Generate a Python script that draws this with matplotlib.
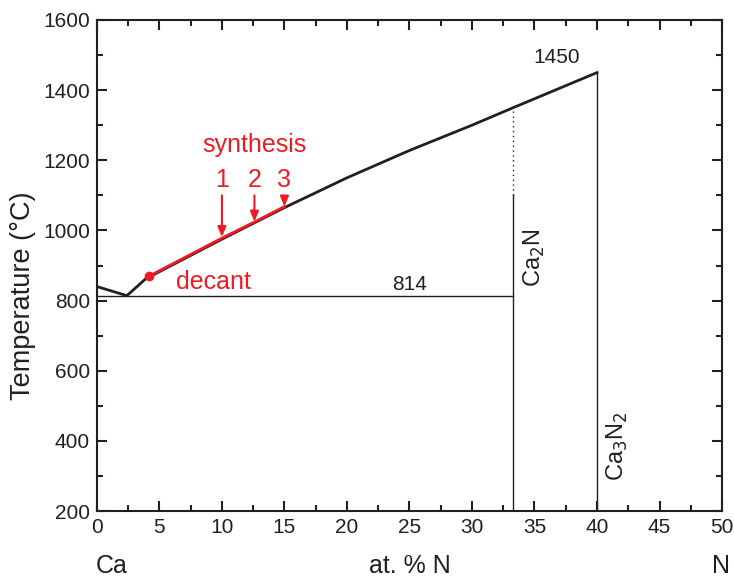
import matplotlib.pyplot as plt
from matplotlib.ticker import MultipleLocator

plt.rcParams['font.family'] = ['Liberation Sans', 'DejaVu Sans']

# liquidus curve (at.% N, temperature in C)
liq_x = [0, 2.4, 3.9, 10, 15, 20, 25, 30, 33.3, 40]
liq_t = [840, 814, 862, 975, 1065, 1150, 1228, 1300, 1350, 1450]

# red synthesis section of the liquidus
syn_x = [4.2, 10, 12.6, 15.0]
syn_t = [870, 978, 1024, 1068]

eutectic_t = 814
ca2n_x = 33.3
ca2n_top_solid = 1100
ca2n_liq = 1350
ca3n2_x = 40
ca3n2_t = 1450

arrow_x = [10, 12.6, 15.0]
arrow_from = [1100, 1100, 1092]
arrow_to = [981, 1025, 1068]
arrow_lbl = ['1', '2', '3']

dark = '#231f20'
red = '#ed1c24'

fig = plt.figure(figsize=(7.34, 5.79), dpi=100)
ax = fig.add_axes([0.132, 0.1174, 0.8517, 0.8481])

ax.plot(liq_x, liq_t, color=dark, lw=2)
ax.plot(syn_x, syn_t, color=red, lw=2)
ax.plot(syn_x[0], syn_t[0], 'o', color=red, ms=6)

ax.plot([0, ca2n_x], [eutectic_t, eutectic_t], color=dark, lw=1)
ax.plot([ca2n_x, ca2n_x], [200, ca2n_top_solid], color=dark, lw=1)
ax.plot([ca2n_x, ca2n_x], [ca2n_top_solid, ca2n_liq], color=dark, lw=1, ls=(0, (1, 2.5)))
ax.plot([ca3n2_x, ca3n2_x], [200, ca3n2_t], color=dark, lw=1)

for xa, y0, y1, lb in zip(arrow_x, arrow_from, arrow_to, arrow_lbl):
    ax.annotate('', xy=(xa, y1), xytext=(xa, y0),
                arrowprops=dict(arrowstyle='-|>,head_length=0.6,head_width=0.25',
                                color=red, lw=1.5, shrinkA=0, shrinkB=0))
    ax.text(xa, 1145, lb, color=red, fontsize=18, ha='center', va='center')

ax.text(12.6, 1243, 'synthesis', color=red, fontsize=18, ha='center', va='center')
ax.text(9.3, 853, 'decant', color=red, fontsize=18, ha='center', va='center')
ax.text(25, 846, '814', color=dark, fontsize=15, ha='center', va='center')
ax.text(36.8, 1493, '1450', color=dark, fontsize=15, ha='center', va='center')
ax.text(35.0, 922, 'Ca$_2$N', color=dark, fontsize=17, rotation=90, ha='center', va='center')
ax.text(41.6, 385, 'Ca$_3$N$_2$', color=dark, fontsize=17, rotation=90, ha='center', va='center')

ax.set_xlim(0, 50)
ax.set_ylim(200, 1600)
ax.xaxis.set_major_locator(MultipleLocator(5))
ax.xaxis.set_minor_locator(MultipleLocator(2.5))
ax.yaxis.set_major_locator(MultipleLocator(200))
ax.yaxis.set_minor_locator(MultipleLocator(100))
ax.tick_params(which='both', direction='in', top=True, right=True, colors=dark,
               labelsize=15, width=1.5)
ax.tick_params(which='major', length=7, pad=5)
ax.tick_params(which='minor', length=4)
for s in ax.spines.values():
    s.set_linewidth(1.5)
    s.set_color(dark)

fig.text(23.5 / 734, 1 - 296 / 579, 'Temperature (°C)', fontsize=19.5, color=dark,
         rotation=90, ha='center', va='center')
fig.text(112 / 734, 1 - 566 / 579, 'Ca', fontsize=18, color=dark, ha='center', va='center')
fig.text(410 / 734, 1 - 566 / 579, 'at. % N', fontsize=18, color=dark, ha='center', va='center')
fig.text(721 / 734, 1 - 566 / 579, 'N', fontsize=18, color=dark, ha='center', va='center')

fig.savefig('out.png', dpi=100)
